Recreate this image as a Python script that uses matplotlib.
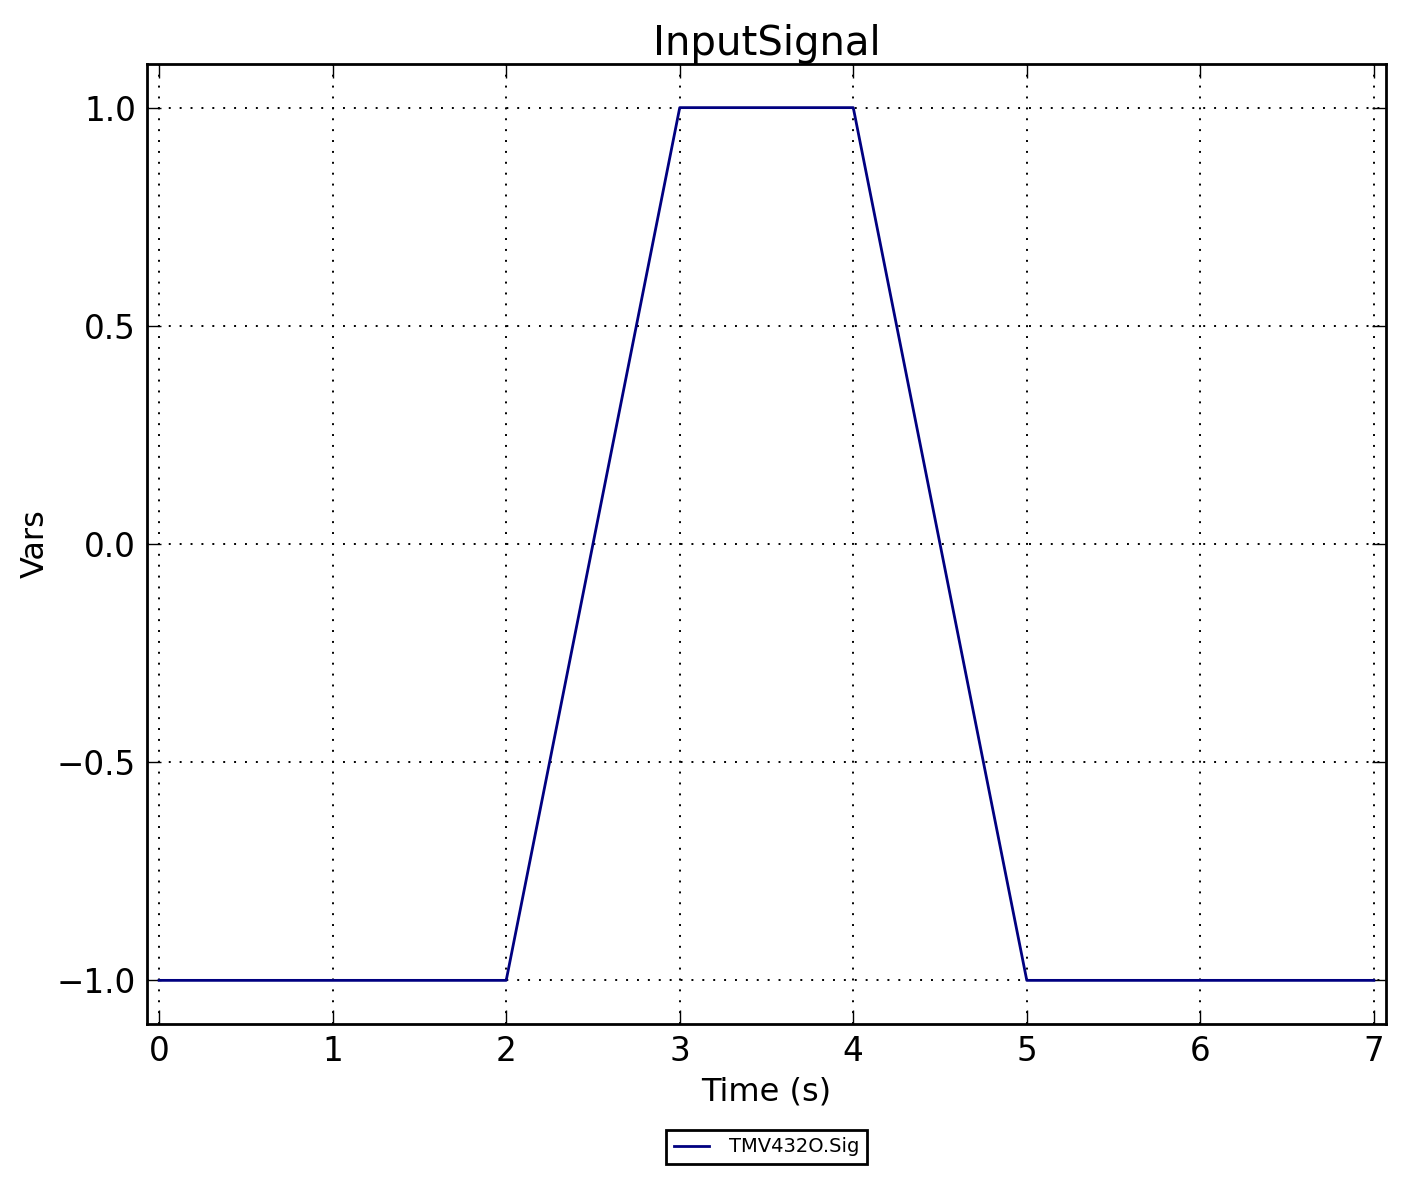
import matplotlib
matplotlib.use("Agg")
import matplotlib.pyplot as plt

# signal samples
time = [0, 1, 2, 3, 4, 5, 6, 7]
sig = [-1.0, -1.0, -1.0, 1.0, 1.0, -1.0, -1.0, -1.0]
label = 'TMV432O.Sig'

plt.rcParams['xtick.direction'] = 'in'
plt.rcParams['ytick.direction'] = 'in'
plt.rcParams['xtick.top'] = True
plt.rcParams['ytick.right'] = True

fig = plt.figure(figsize=(14.05, 11.84), dpi=100)
ax = fig.add_axes([147 / 1405, 1 - 1024 / 1184, (1386 - 147) / 1405, (1024 - 64) / 1184])

ax.plot(time, sig, color='#000080', lw=2, label=label)
ax.set_xlim(-0.07, 7.07)
ax.set_ylim(-1.1, 1.1)
ax.set_xticks(range(8))
ax.set_yticks([-1.0, -0.5, 0.0, 0.5, 1.0])
ax.tick_params(labelsize=23.5, length=10, width=1, pad=8)
ax.grid(True, color='black', linestyle=(0, (1, 4.6)), lw=1.4)
for s in ax.spines.values():
    s.set_linewidth(2)

# title y given explicitly so it is not auto-positioned
ax.set_title('InputSignal', fontsize=29, pad=4, y=1.004)
ax.set_xlabel('Time (s)', fontsize=23, labelpad=6)
ax.set_ylabel('Vars', fontsize=23, labelpad=4)

leg = ax.legend(loc='upper center', bbox_to_anchor=(0.5, -0.102), fontsize=14,
                fancybox=False, edgecolor='black', framealpha=1, borderpad=0.4,
                handletextpad=1.0, handlelength=1.8, borderaxespad=0.4)
leg.get_frame().set_linewidth(2)

fig.savefig('out.png', dpi=100)
